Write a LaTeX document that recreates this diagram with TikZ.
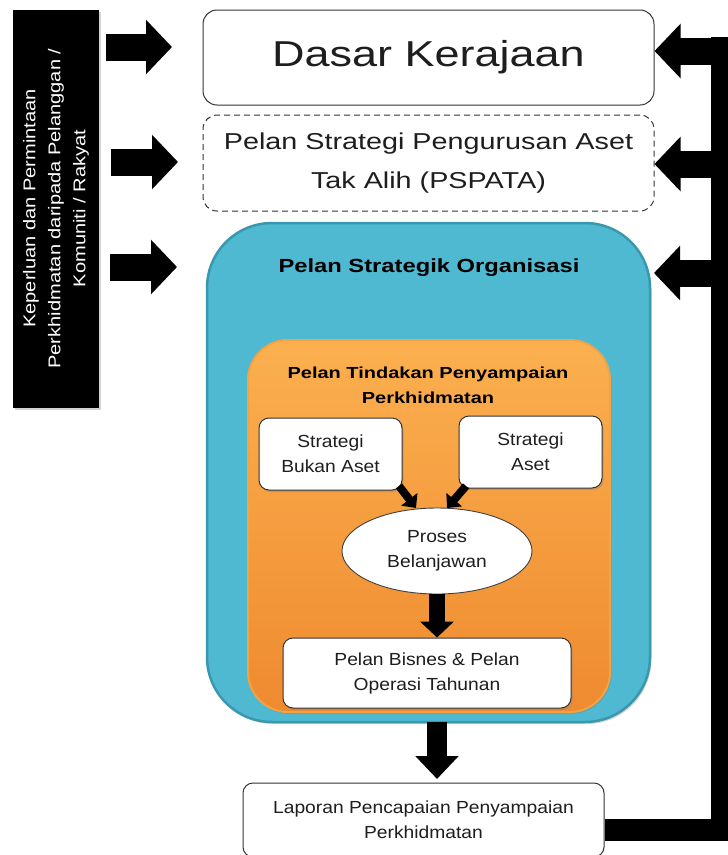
\documentclass[tikz,border=0pt]{standalone}
\usepackage{fontspec}
\setmainfont{Liberation Sans}[FakeStretch=1.25]
\newfontfamily\innerfont{Liberation Sans}[FakeStretch=1.1]
\newfontfamily\sidefont{Liberation Sans}[FakeStretch=1.18]
\usetikzlibrary{arrows.meta,shapes.geometric,calc,shadows}
\definecolor{bluefill}{HTML}{4FB9D1}
\definecolor{blueedge}{HTML}{3A97AE}
\definecolor{orgtop}{HTML}{FBB04F}
\definecolor{orgbot}{HTML}{EF8A30}
\definecolor{orgedge}{HTML}{F5A341}
\definecolor{txt}{HTML}{1E1E1E}
\newcommand\fsz[2]{\fontsize{#1}{#2}\selectfont}
\begin{document}
\begin{tikzpicture}[x=1pt,y=-1pt,
  wbox/.style={draw=black!80, line width=1pt, fill=white, rounded corners=10pt,
    align=center, inner sep=0pt, text=txt},
  innertext/.style={font=\innerfont\fsz{17.5}{25}},
  softshadow/.style={drop shadow={opacity=0.35, shadow xshift=1.5pt, shadow yshift=-2pt}},
  bigarrow/.style={line width=27pt, -{Triangle[length=26pt,width=53pt]}},
  midarrow/.style={line width=20pt, -{Triangle[length=23pt,width=42pt]}},
  downarrow/.style={line width=16pt, -{Triangle[length=16pt,width=33pt]}},
  smallarrow/.style={line width=8pt, -{Triangle[length=11pt,width=20pt]}},
  loopline/.style={line width=22pt, line join=miter}
]
\useasboundingbox (0,0) rectangle (728,855);

% left black box
\node[rotate=90, fill=black, text=white, minimum width=398pt, minimum height=86pt,
  inner sep=0pt, align=center, font=\sidefont\fsz{17}{25}, softshadow] (kb) at (56,208.5)
  {Keperluan dan Permintaan\\Perkhidmatan daripada Pelanggan /\\Komuniti / Rakyat};

% top boxes
\node[wbox, rounded corners=14pt, minimum width=451pt, minimum height=95pt,
  font=\fsz{36}{40}] (dasar) at (428.5,57.5) {Dasar Kerajaan};
\node[wbox, rounded corners=14pt, dash pattern=on 6pt off 4pt, minimum width=451pt,
  minimum height=96pt, font=\fsz{23}{39}] (pspata) at (428.5,163)
  {Pelan Strategi Pengurusan Aset\\Tak Alih (PSPATA)};

% organisation
\node[draw=blueedge, line width=2.5pt, fill=bluefill, rounded corners=65pt,
  minimum width=443pt, minimum height=499pt, inner sep=0pt, softshadow] (org) at (428.5,472.5) {};
\node[font=\fsz{19}{24}\bfseries, text=black] (orgt) at (429,268) {Pelan Strategik Organisasi};

\node[draw=orgedge, line width=2pt, top color=orgtop, bottom color=orgbot, rounded corners=40pt,
  minimum width=362pt, minimum height=372pt, inner sep=0pt, softshadow] (ptp) at (429,526) {};
\node[font=\fsz{16}{25}\bfseries, align=center, text=black] (ptpt) at (428,385)
  {Pelan Tindakan Penyampaian\\Perkhidmatan};

\node[wbox, innertext, minimum width=143pt, minimum height=72pt, softshadow] (sba)
  at (330.5,454) {Strategi\\Bukan Aset};
\node[wbox, innertext, minimum width=143pt, minimum height=72pt, softshadow] (sa)
  at (530.5,452) {Strategi\\Aset};
\node[ellipse, draw=black!75, line width=0.9pt, fill=white, minimum width=190pt, minimum height=86pt,
  inner sep=0pt, align=center, text=txt, innertext] (pb) at (437,551) {Proses\\Belanjawan};
\node[wbox, innertext, minimum width=288pt, minimum height=70pt, softshadow] (pbo)
  at (427,673) {Pelan Bisnes \& Pelan\\Operasi Tahunan};

\node[wbox, innertext, minimum width=361pt, minimum height=74pt] (lap)
  at (423.5,820) {Laporan Pencapaian Penyampaian\\Perkhidmatan};

% left arrows
\coordinate (l1) at (106,47);  \coordinate (l1e) at (172,47);
\coordinate (l2) at (111,162); \coordinate (l2e) at (178,162);
\coordinate (l3) at (110,267); \coordinate (l3e) at (177,267);
\draw[bigarrow] (l1) -- (l1e);
\draw[bigarrow] (l2) -- (l2e);
\draw[bigarrow] (l3) -- (l3e);

% inner arrows
\coordinate (d1s) at (399,486); \coordinate (d1e) at (416,508);
\coordinate (d2s) at (466,486); \coordinate (d2e) at (447,508);
\draw[smallarrow] (d1s) -- (d1e);
\draw[smallarrow] (d2s) -- (d2e);
\draw[downarrow] (pb.south) -- (pb.south |- pbo.north);
\coordinate (ba) at (437,722);
\coordinate (bae) at (437,779);
\draw[midarrow] (ba) -- (bae);

% feedback loop
\coordinate (fbB) at (722,830);
\coordinate (fbT) at (722,37);
\draw[loopline] (lap.east |- fbB) -- (fbB) -- (fbT);
\coordinate (r1) at (733,51);
\coordinate (r2) at (733,164);
\coordinate (r3) at (733,273);
\draw[bigarrow] (r1) -- (r1 -| dasar.east);
\draw[bigarrow] (r2) -- (r2 -| pspata.east);
\draw[bigarrow] (r3) -- (654,273);
\end{tikzpicture}
\end{document}
